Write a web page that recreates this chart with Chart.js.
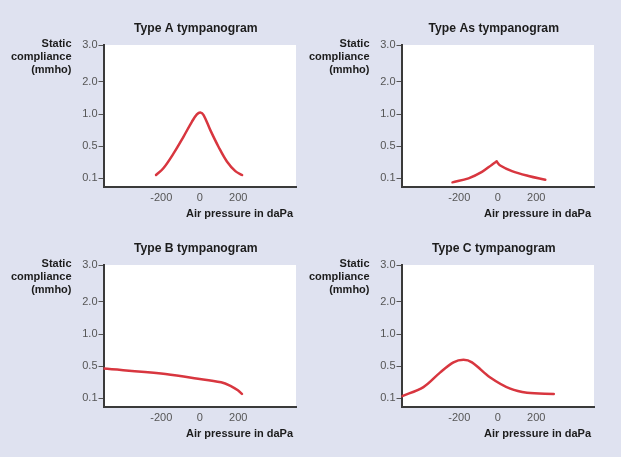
<!DOCTYPE html>
<html>
<head>
<meta charset="utf-8">
<script src="https://cdn.jsdelivr.net/npm/chart.js@4.4.1/dist/chart.umd.min.js"></script>
<style>
  html, body { margin: 0; padding: 0; background: #dfe2f0; }
  #wrap { position: relative; width: 621px; height: 457px; overflow: hidden; }
  canvas { position: absolute; }
</style>
</head>
<body>
<div id="wrap">
  <canvas id="typeA" width="310" height="228" style="left:0;top:0"></canvas>
  <canvas id="typeAs" width="310" height="228" style="left:298px;top:0"></canvas>
  <canvas id="typeB" width="310" height="228" style="left:0;top:220px"></canvas>
  <canvas id="typeC" width="310" height="228" style="left:298px;top:220px"></canvas>
</div>
<script>
// tick labels
const yTickValues = [0.1, 0.5, 1.0, 2.0, 3.0];
const yTickLabels = ['0.1', '0.5', '1.0', '2.0', '3.0'];
const xTickValues = [-200, 0, 200];
const yTitle = ['Static', 'compliance', '(mmho)'];
const xTitle = 'Air pressure in daPa';

// curves: air pressure (daPa) and static compliance (mmho)
const typeAPressure = [-227, -189, -136, -84, -41, -15, 3, 20, 55, 98, 141, 185, 220];
const typeACompliance = [0.141, 0.225, 0.41, 0.65, 0.88, 0.995, 1.05, 0.985, 0.75, 0.49, 0.31, 0.19, 0.141];

const typeAsLeftPressure = [-235, -152, -82, -30, -6];
const typeAsLeftCompliance = [0.05, 0.10, 0.18, 0.27, 0.31];
const typeAsRightPressure = [-6, 13, 74, 160, 247];
const typeAsRightCompliance = [0.31, 0.26, 0.19, 0.13, 0.083];

const typeBPressure = [-500, -201, -28, 111, 164, 198, 219];
const typeBCompliance = [0.47, 0.41, 0.35, 0.30, 0.25, 0.20, 0.155];

const typeCPressure = [-500, -386, -300, -230, -178, -134, -39, 65, 152, 291];
const typeCCompliance = [0.125, 0.24, 0.42, 0.56, 0.60, 0.56, 0.36, 0.22, 0.17, 0.155];

// the compliance axis is not linear: ticks sit at (almost) even steps
const tickPos = [0, 1, 2, 3, 4.15];
function toPos(c) {
  if (c <= yTickValues[0]) return (c - yTickValues[0]) / (yTickValues[1] - yTickValues[0]);
  for (let i = 1; i < yTickValues.length; i++) {
    if (c <= yTickValues[i]) {
      const f = (c - yTickValues[i - 1]) / (yTickValues[i] - yTickValues[i - 1]);
      return tickPos[i - 1] + f * (tickPos[i] - tickPos[i - 1]);
    }
  }
  return tickPos[tickPos.length - 1];
}
const points = (xs, ys) => xs.map((x, i) => ({ x: x, y: toPos(ys[i]) }));

const FONT = '"Liberation Sans", Arial, Helvetica, sans-serif';
const RED = '#d8363f';

const panelText = {
  id: 'panelText',
  beforeDraw(chart) {
    const { ctx, chartArea: a } = chart;
    ctx.save();
    ctx.fillStyle = '#ffffff';
    ctx.fillRect(a.left, a.top, a.right - a.left, a.bottom - a.top);
    ctx.restore();
  },
  afterDraw(chart, args, opts) {
    const { ctx, chartArea: a } = chart;
    ctx.save();
    ctx.fillStyle = '#1c1c1c';
    ctx.textBaseline = 'middle';
    ctx.textAlign = 'center';
    ctx.font = 'bold 12.2px ' + FONT;
    ctx.fillText(opts.title, (a.left + a.right) / 2 - 4, a.top - 16);
    ctx.font = 'bold 11px ' + FONT;
    ctx.textAlign = 'right';
    yTitle.forEach((t, i) => ctx.fillText(t, a.left - 32, a.top - 1.5 + i * 13.3));
    ctx.fillText(xTitle, a.right - 3, a.bottom + 26.5);
    ctx.restore();
  }
};

function makeChart(id, title, datasets) {
  new Chart(document.getElementById(id), {
    type: 'line',
    data: {
      datasets: datasets.map(d => ({
        data: d,
        borderColor: RED,
        borderWidth: 2.5,
        borderCapStyle: 'round',
        borderJoinStyle: 'round',
        pointRadius: 0,
        tension: 0.35,
        fill: false
      }))
    },
    options: {
      responsive: false,
      animation: false,
      events: [],
      layout: { padding: { left: 0, top: 45, right: 14, bottom: 0 } },
      plugins: {
        legend: { display: false },
        tooltip: { enabled: false },
        panelText: { title: title }
      },
      scales: {
        x: {
          type: 'linear',
          min: -500,
          max: 500,
          afterFit: s => { s.height = 41; },
          afterBuildTicks: s => { s.ticks = xTickValues.map(v => ({ value: v })); },
          grid: { display: false, drawTicks: false },
          border: { display: true, color: '#3a3a3a', width: 2 },
          ticks: {
            autoSkip: false,
            maxRotation: 0,
            padding: 4,
            color: '#555',
            font: { family: FONT, size: 11 },
            callback: v => String(v)
          }
        },
        y: {
          type: 'linear',
          min: -0.27,
          max: 4.15,
          afterFit: s => { s.width = 103.5; },
          afterBuildTicks: s => { s.ticks = yTickValues.map(v => ({ value: toPos(v) })); },
          grid: { drawOnChartArea: false, drawTicks: true, tickLength: 5, color: '#555', lineWidth: 1 },
          border: { display: true, color: '#3a3a3a', width: 2 },
          ticks: {
            autoSkip: false,
            padding: 1,
            color: '#555',
            font: { family: FONT, size: 11 },
            callback: (v, i) => yTickLabels[i]
          }
        }
      }
    },
    plugins: [panelText]
  });
}

makeChart('typeA', 'Type A tympanogram', [points(typeAPressure, typeACompliance)]);
makeChart('typeAs', 'Type As tympanogram', [
  points(typeAsLeftPressure, typeAsLeftCompliance),
  points(typeAsRightPressure, typeAsRightCompliance)
]);
makeChart('typeB', 'Type B tympanogram', [points(typeBPressure, typeBCompliance)]);
makeChart('typeC', 'Type C tympanogram', [points(typeCPressure, typeCCompliance)]);
</script>
</body>
</html>
